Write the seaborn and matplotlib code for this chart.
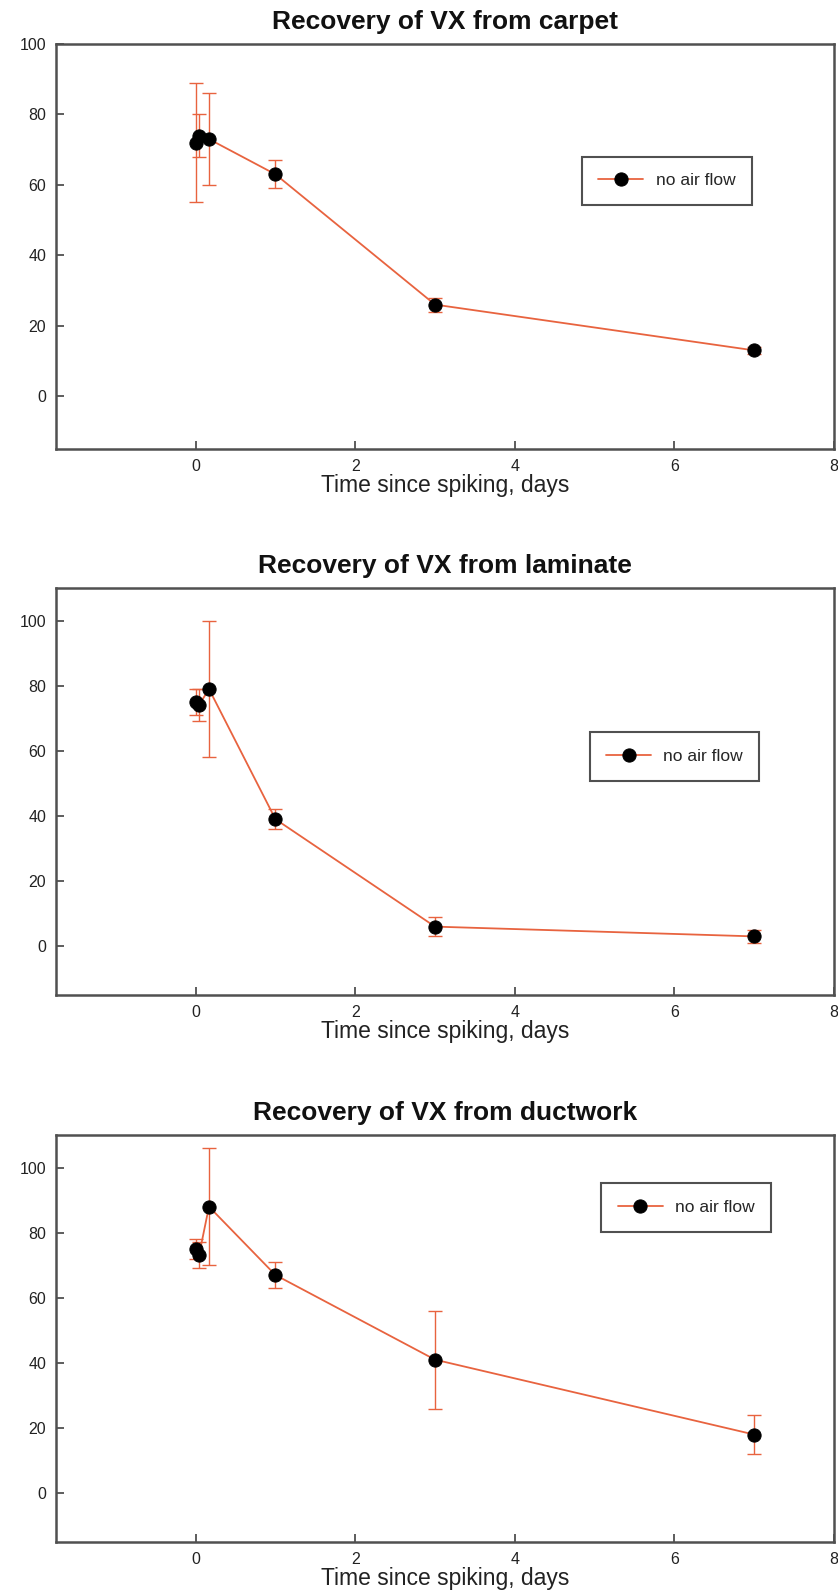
import numpy as np
import pandas as pd
import matplotlib
matplotlib.use("Agg")
import matplotlib.pyplot as plt
import seaborn as sns

# Sampling times (days after spiking) and percent recovery per surface
time_days = [0, 0.042, 0.167, 1, 3, 7]

carpet = [72, 74, 73, 63, 26, 13]
carpet_err = [17, 6, 13, 4, 2, 1]

laminate = [75, 74, 79, 39, 6, 3]
laminate_err = [4, 5, 21, 3, 3, 2]

ductwork = [75, 73, 88, 67, 41, 18]
ductwork_err = [3, 4, 18, 4, 15, 6]

titles = ["Recovery of VX from carpet",
          "Recovery of VX from laminate",
          "Recovery of VX from ductwork"]
series_label = "no air flow"
x_label = "Time since spiking, days"
x_ticks = [0, 2, 4, 6, 8]
y_ticks = [0, 20, 40, 60, 80, 100]

sns.set_theme(style="white")
plt.rcParams["font.family"] = ["Liberation Sans", "DejaVu Sans"]

LINE = "#e8633f"
FRAME = "#505050"

fig = plt.figure(figsize=(8.38, 15.95), dpi=100)

W, H = 838, 1595
panels = [
    # (values, errors, title, top px, bottom px, ylim, legend centre)
    (carpet, carpet_err, titles[0], 44, 449, (-15, 100), (0.785, 0.662)),
    (laminate, laminate_err, titles[1], 588, 995, (-15, 110), (0.795, 0.586)),
    (ductwork, ductwork_err, titles[2], 1135, 1542, (-15, 110), (0.81, 0.822)),
]

left_px, right_px = 56, 834

for vals, errs, title, top, bottom, ylim, leg_xy in panels:
    ax = fig.add_axes([left_px / W, 1 - bottom / H,
                       (right_px - left_px) / W, (bottom - top) / H])
    df = pd.DataFrame({"days": time_days, "recovery": vals, "err": errs})

    ax.errorbar(df["days"], df["recovery"], yerr=df["err"], fmt="none",
                ecolor=LINE, elinewidth=1.0, capsize=5, capthick=1.0, zorder=2)
    sns.lineplot(data=df, x="days", y="recovery", ax=ax, color=LINE,
                 linewidth=1.3, marker="o", markersize=9.5,
                 markerfacecolor="black", markeredgecolor="black",
                 label=series_label, errorbar=None, sort=False, zorder=3)

    ax.set_xlim(-1.75, 8)
    ax.set_ylim(*ylim)
    ax.set_xticks(x_ticks)
    ax.set_yticks(y_ticks)
    ax.tick_params(direction="in", length=6, width=1.3, color=FRAME,
                   labelsize=11.5, labelcolor="#222222", pad=7,
                   left=True, bottom=True, top=False, right=False)
    for sp in ax.spines.values():
        sp.set_color(FRAME)
        sp.set_linewidth(1.8)

    ax.set_title(title, fontsize=19, fontweight="bold", pad=11,
                 color="#111111")
    ax.set_xlabel(x_label, fontsize=16.5, labelpad=0, color="#222222")
    ax.set_ylabel("")

    leg = ax.legend(loc="center", bbox_to_anchor=leg_xy, frameon=True,
                    fancybox=False, framealpha=1, edgecolor=FRAME,
                    fontsize=12.5, borderpad=0.95, handlelength=2.6,
                    handletextpad=0.7, borderaxespad=0)
    leg.get_frame().set_linewidth(1.5)

fig.savefig("out.png", dpi=100, facecolor="white")
